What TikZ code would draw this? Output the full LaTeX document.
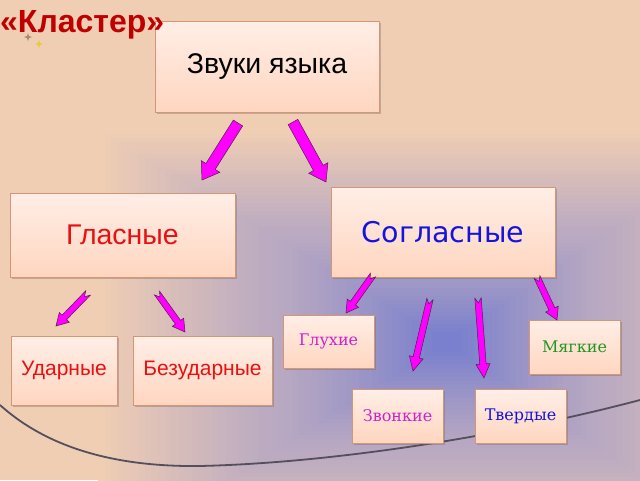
\documentclass[tikz,border=0pt]{standalone}
\usepackage{fontspec}
\setmainfont{Liberation Sans}
\newfontfamily\dvsans{DejaVu Sans}
\newfontfamily\dvserif{DejaVu Serif}
\usetikzlibrary{calc,shadows}
\definecolor{peach}{RGB}{240,206,180}
\definecolor{lav}{RGB}{190,172,192}
\definecolor{bluec}{RGB}{122,128,206}
\definecolor{boxtop}{RGB}{255,238,230}
\definecolor{boxbot}{RGB}{255,214,192}
\definecolor{boxline}{RGB}{212,150,118}
\definecolor{titlered}{RGB}{192,0,0}
\definecolor{txtred}{RGB}{232,16,16}
\definecolor{txtblue}{RGB}{20,20,224}
\definecolor{txtmag}{RGB}{204,34,204}
\definecolor{txtgreen}{RGB}{34,150,34}
\definecolor{arrfill}{RGB}{255,0,255}
\definecolor{arrline}{RGB}{80,30,80}
\definecolor{curvec}{RGB}{85,78,92}
\tikzset{
  box/.style={draw=boxline, line width=0.8pt, top color=boxtop, bottom color=boxbot,
    drop shadow={shadow xshift=1.5pt, shadow yshift=-1.5pt, opacity=0.35, fill=black!60},
    inner sep=0pt},
  arrstyle/.style={fill=arrfill, draw=arrline, line width=0.5pt, line join=miter},
  sparkle/.style={line width=0pt},
  bigtext/.style={font=\fontsize{28.5}{32}\selectfont},
  midtext/.style={font=\fontsize{21}{25}\selectfont, text=txtred},
  smalltext/.style={font=\dvserif\fontsize{16}{19}\selectfont}
}
\newcommand\blockarr[6]{%
  \path ($(#2)!#5!(#1)$) coordinate (hb#1);
  \filldraw[arrstyle] ($(#1)!#3!90:(#2)$) -- ($(hb#1)!#3!90:(#2)$) -- ($(hb#1)!#4!90:(#2)$)
    -- (#2) -- ($(hb#1)!#4!-90:(#2)$) -- ($(hb#1)!#3!-90:(#2)$) -- ($(#1)!#3!-90:(#2)$)
    -- ($(#1)!#6!(#2)$) -- cycle;}
\begin{document}
\begin{tikzpicture}[x=1pt,y=-1pt]
\useasboundingbox (0,0) rectangle (640,480);
% background
\fill[peach] (0,0) rectangle (640,480);
\foreach \i in {0,...,50}{
  \pgfmathsetmacro\t{\i/50}
  \pgfmathsetmacro\pa{min(100,100*\t/0.45)}
  \pgfmathsetmacro\s{max(0.001,(\t-0.45)/0.55)}
  \pgfmathsetmacro\pb{100*(\s)^1.3}
  \colorlet{ringa}{lav!\pa!peach}
  \colorlet{ringb}{bluec!\pb!ringa}
  \pgfmathsetmacro\xa{98+(432-98)*\t}
  \pgfmathsetmacro\xb{760-(760-462)*\t}
  \pgfmathsetmacro\ya{130+(332-130)*\t}
  \pgfmathsetmacro\yb{560-(560-352)*\t}
  \fill[ringb] (\xa,\ya) rectangle (\xb,\yb);
}
% curve
\draw[curvec, line width=1.8pt] (0,405) .. controls (50,450) and (120,467) .. (200,466)
  .. controls (330,463) and (500,437) .. (640,400);
% nodes
\node[box, bigtext, minimum width=224pt, minimum height=91pt, text=black] (zvuki) at (267,66.5) {Звуки языка};
\node[box, bigtext, minimum width=225pt, minimum height=84pt, text=txtred] (glas) at (122.5,235) {Гласные};
\node[box, minimum width=224pt, minimum height=90pt, font=\dvsans\fontsize{28.5}{32}\selectfont, text=txtblue] (sogl) at (443,232) {Согласные};
\node[box, midtext, minimum width=106pt, minimum height=69pt] (udar) at (64,370.5) {Ударные};
\node[box, midtext, minimum width=139pt, minimum height=69pt] (bezud) at (202.5,370.5) {Безударные};
\node[box, smalltext, minimum width=91pt, minimum height=53pt, text=txtmag] (gluh) at (328.5,341.5) {Глухие};
\node[box, smalltext, minimum width=91pt, minimum height=54pt, text=txtgreen] (myag) at (574.5,347) {Мягкие};
\node[box, smalltext, minimum width=91pt, minimum height=54pt, text=txtmag] (zvon) at (397.5,416) {Звонкие};
\node[box, smalltext, minimum width=91pt, minimum height=54pt, text=txtblue] (tverd) at (520.5,416) {Твердые};
% title (drawn over the top box corner)
\node[font=\bfseries\fontsize{32}{35}\selectfont, text=titlered, anchor=base west, inner sep=0pt] (title) at (0,32) {«Кластер»};
\fill[sparkle, fill={rgb,255:red,165;green,140;blue,110}] (28,37) ++(0,-4) -- ++(1,3) -- ++(3,1) -- ++(-3,1) -- ++(-1,3) -- ++(-1,-3) -- ++(-3,-1) -- ++(3,-1) -- cycle;
\fill[sparkle, fill={rgb,255:red,235;green,200;blue,60}] (39,44) ++(0,-4) -- ++(1,3) -- ++(3,1) -- ++(-3,1) -- ++(-1,3) -- ++(-1,-3) -- ++(-3,-1) -- ++(3,-1) -- cycle;
% arrow ends
\coordinate (a1t) at (238,123); \coordinate (a1h) at (202,180);
\coordinate (a2t) at (293,122); \coordinate (a2h) at (326,182);
\coordinate (a3t) at (88,293);  \coordinate (a3h) at (56,326);
\coordinate (a4t) at (157,293); \coordinate (a4h) at (185,332);
\coordinate (a5t) at (373,275); \coordinate (a5h) at (346,313);
\coordinate (a6t) at (430,299); \coordinate (a6h) at (413,371);
\coordinate (a7t) at (478,298); \coordinate (a7h) at (484,378);
\coordinate (a8t) at (537,277); \coordinate (a8h) at (557,320);
\blockarr{a1t}{a1h}{5.5pt}{11pt}{16pt}{0pt}
\blockarr{a2t}{a2h}{5.5pt}{11pt}{16pt}{0pt}
\blockarr{a3t}{a3h}{3.2pt}{7pt}{12pt}{5pt}
\blockarr{a4t}{a4h}{3.2pt}{7pt}{12pt}{5pt}
\blockarr{a5t}{a5h}{3.2pt}{7pt}{12pt}{5pt}
\blockarr{a6t}{a6h}{3.2pt}{7pt}{14pt}{5pt}
\blockarr{a7t}{a7h}{3.2pt}{7pt}{14pt}{5pt}
\blockarr{a8t}{a8h}{3.2pt}{7pt}{12pt}{5pt}
\end{tikzpicture}
\end{document}
